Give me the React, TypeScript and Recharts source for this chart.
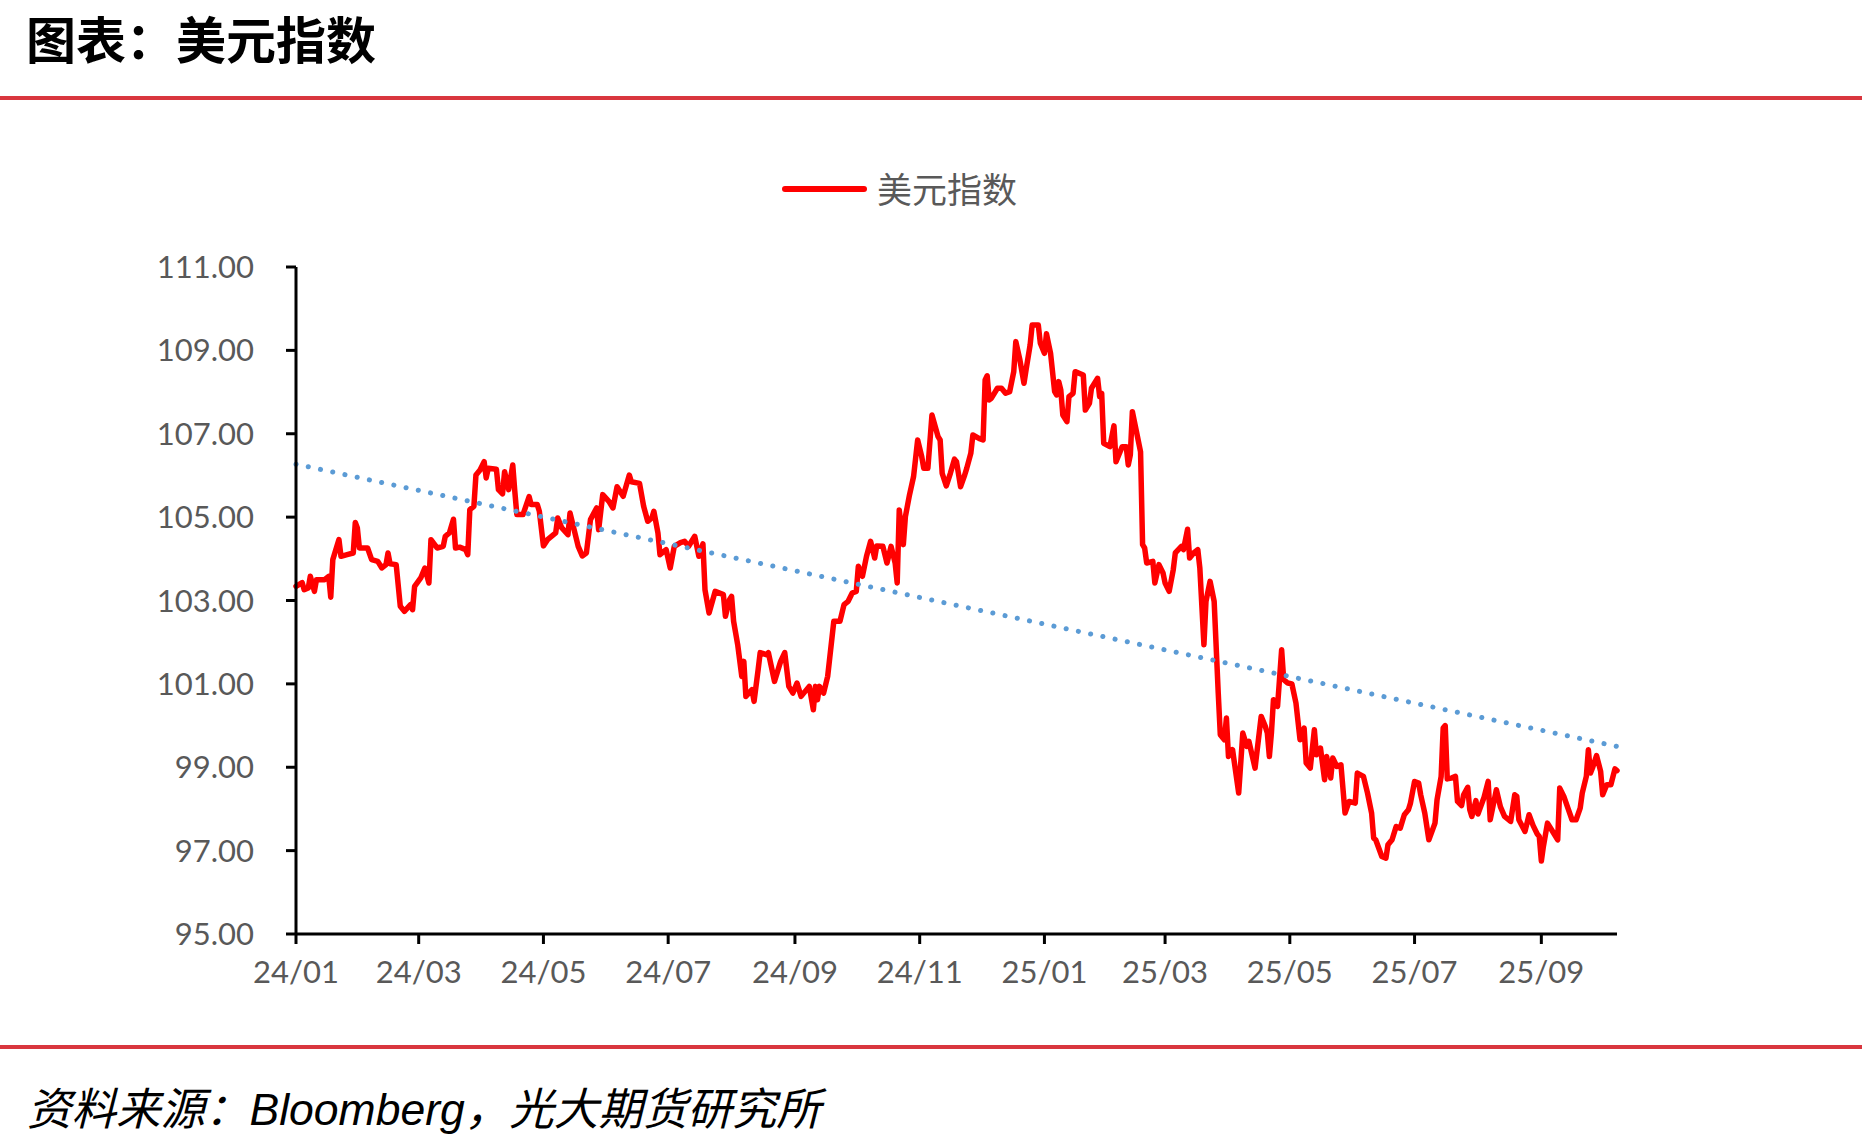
import React from 'react';
import { LineChart, Line, XAxis, YAxis } from 'recharts';

// Days counted from 2024-01-01 for each plotted close
const tradeDays = [
  0, 3, 4, 6, 7, 9, 10, 12, 14, 16,
  17, 18, 21, 22, 25, 28, 29, 30, 31, 35,
  37, 40, 42, 44, 45, 46, 49, 51, 53, 56,
  57, 58, 61, 63, 65, 66, 69, 72, 73, 75,
  77, 78, 80, 83, 84, 85, 87, 88, 90, 92,
  93, 94, 98, 99, 101, 102, 104, 106, 107, 108,
  111, 114, 115, 118, 119, 121, 123, 127, 128, 130,
  133, 134, 136, 138, 140, 142, 144, 147, 148, 150,
  153, 155, 157, 160, 163, 164, 168, 170, 172, 174,
  175, 177, 178, 181, 183, 185, 188, 190, 192, 195,
  197, 199, 200, 202, 205, 209, 210, 212, 213, 214,
  216, 218, 219, 220, 223, 224, 226, 227, 230, 231,
  234, 237, 239, 241, 243, 245, 247, 251, 253, 254,
  255, 256, 258, 260, 263, 266, 268, 270, 272, 274,
  275, 277, 279, 281, 283, 284, 287, 289, 291, 293,
  294, 295, 297, 298, 300, 302, 304, 306, 307, 309,
  311, 314, 315, 316, 318, 320, 322, 323, 325, 327,
  328, 330, 331, 334, 336, 337, 338, 339, 340, 343,
  345, 347, 349, 351, 352, 354, 356, 357, 359, 360,
  363, 364, 366, 367, 369, 371, 372, 373, 374, 375,
  377, 378, 380, 381, 385, 386, 388, 389, 392, 393,
  394, 395, 398, 400, 401, 404, 406, 407, 408, 409,
  411, 413, 414, 415, 416, 419, 420, 422, 424, 425,
  427, 429, 430, 433, 434, 436, 437, 439, 441, 442,
  444, 445, 447, 449, 451, 452, 454, 455, 456, 458,
  461, 463, 465, 466, 469, 472, 474, 475, 476, 477,
  478, 480, 482, 483, 485, 487, 489, 491, 493, 494,
  496, 498, 499, 501, 503, 504, 506, 507, 509, 511,
  513, 515, 518, 519, 522, 524, 526, 527, 528, 531,
  533, 534, 536, 538, 540, 542, 544, 545, 547, 549,
  550, 552, 554, 557, 558, 560, 561, 562, 563, 565,
  567, 568, 570, 571, 573, 574, 575, 577, 578, 581,
  583, 584, 587, 589, 591, 594, 596, 597, 598, 601,
  603, 605, 607, 608, 609, 610, 612, 614, 617, 618,
  620, 622, 624, 626, 628, 629, 631, 632, 633, 634,
  636, 638, 639, 641, 643, 645, 646,
];

// US dollar index closes
const dxyValues = [
  103.34, 103.43, 103.26, 103.30, 103.58, 103.22, 103.50, 103.50, 103.50, 103.58,
  103.08, 103.98, 104.46, 104.06, 104.10, 104.14, 104.87, 104.74, 104.26, 104.26,
  103.98, 103.94, 103.78, 103.86, 104.14, 103.88, 103.86, 102.86, 102.74, 102.90,
  102.78, 103.34, 103.54, 103.78, 103.42, 104.46, 104.26, 104.30, 104.54, 104.62,
  104.95, 104.26, 104.28, 104.22, 104.10, 105.18, 105.26, 106.01, 106.13, 106.33,
  105.94, 106.17, 106.15, 105.66, 105.56, 106.09, 105.66, 106.25, 105.62, 105.06,
  105.06, 105.49, 105.30, 105.30, 105.14, 104.31, 104.46, 104.62, 104.98, 104.74,
  104.58, 105.10, 104.70, 104.30, 104.07, 104.14, 104.94, 105.22, 104.70, 105.54,
  105.38, 105.22, 105.73, 105.50, 106.01, 105.85, 105.81, 105.26, 104.90, 104.98,
  105.14, 104.62, 104.10, 104.22, 103.78, 104.30, 104.39, 104.42, 104.30, 104.54,
  104.06, 104.36, 103.26, 102.70, 103.22, 103.14, 102.62, 103.02, 103.10, 102.50,
  101.94, 101.18, 101.54, 100.70, 100.86, 100.58, 101.34, 101.75, 101.70, 101.75,
  101.06, 101.54, 101.75, 100.94, 100.78, 101.02, 100.70, 100.94, 100.38, 100.94,
  100.62, 100.94, 100.78, 101.18, 102.50, 102.50, 102.90, 102.98, 103.18, 103.22,
  103.82, 103.58, 104.06, 104.42, 104.02, 104.31, 104.30, 103.90, 104.30, 103.90,
  103.42, 105.17, 104.34, 105.01, 105.53, 105.97, 106.85, 106.45, 106.17, 106.17,
  107.45, 106.93, 106.85, 106.05, 105.75, 106.05, 106.39, 106.33, 105.73, 106.01,
  106.17, 106.53, 106.97, 106.89, 106.85, 108.29, 108.39, 107.81, 107.85, 108.09,
  108.09, 107.97, 108.01, 108.49, 109.21, 108.77, 108.21, 108.53, 109.13, 109.61,
  109.61, 109.17, 108.93, 109.40, 108.93, 108.01, 107.93, 108.25, 108.05, 107.45,
  107.29, 107.89, 107.97, 108.49, 108.41, 107.57, 107.73, 108.09, 108.33, 107.89,
  107.97, 106.77, 106.69, 107.19, 106.33, 106.69, 106.69, 106.25, 106.49, 107.53,
  107.05, 106.57, 104.34, 104.26, 103.90, 103.94, 103.42, 103.86, 103.66, 103.42,
  103.22, 103.74, 104.14, 104.30, 104.22, 104.71, 104.02, 104.14, 104.22, 103.78,
  101.94, 102.98, 103.46, 102.98, 100.78, 99.78, 99.66, 100.18, 99.26, 99.42,
  98.38, 99.82, 99.50, 99.62, 98.98, 100.22, 99.98, 99.82, 99.26, 99.82,
  100.62, 100.46, 101.82, 101.10, 101.02, 101.00, 100.54, 99.66, 99.94, 99.10,
  98.98, 99.90, 99.30, 99.46, 98.70, 99.26, 98.74, 99.22, 99.02, 99.06,
  97.90, 98.18, 98.14, 98.86, 98.78, 98.38, 97.90, 97.30, 97.26, 96.86,
  96.82, 97.14, 97.26, 97.58, 97.54, 97.86, 97.98, 98.14, 98.66, 98.62,
  98.34, 97.90, 97.26, 97.66, 98.22, 98.78, 99.94, 100.00, 98.72, 98.74,
  98.78, 98.18, 98.08, 98.34, 98.52, 97.98, 97.82, 98.20, 97.88, 98.28,
  98.66, 97.74, 98.46, 98.05, 97.82, 97.70, 98.34, 98.30, 97.74, 97.46,
  97.86, 97.60, 97.40, 97.34, 96.75, 97.10, 97.66, 97.50, 97.26, 98.50,
  98.30, 98.02, 97.74, 97.74, 98.02, 98.38, 98.78, 99.42, 98.86, 98.98,
  99.28, 98.90, 98.34, 98.58, 98.58, 98.96, 98.92,
];

// Linear trend endpoints
const trendDays = [0, 646];
const trendValues = [106.27, 99.5];

// Axis ticks
const tickDays = [0, 60, 121, 182, 244, 305, 366, 425, 486, 547, 609];
const tickLabels = ['24/01', '24/03', '24/05', '24/07', '24/09', '24/11', '25/01', '25/03', '25/05', '25/07', '25/09'];
const yTicks = [95, 97, 99, 101, 103, 105, 107, 109, 111];

const seriesName = '美元指数';
const titleText = '图表：美元指数';
const sourceText = '资料来源：Bloomberg，光大期货研究所';

const lineData = tradeDays.map((day, i) => ({ day, dxy: dxyValues[i] }));
const trendData = trendDays.map((day, i) => ({ day, trend: trendValues[i] }));

const RULE_RED = '#D9363E';
const LABEL_GREY = '#595959';
const axisFont = { fill: LABEL_GREY, fontSize: 31, fontFamily: 'Lato, "Open Sans", sans-serif' };

export default function App() {
  return (
    <div
      style={{
        position: 'absolute',
        left: 0,
        top: 0,
        width: 1862,
        height: 1146,
        background: '#ffffff',
        overflow: 'hidden',
      }}
    >
      <div
        style={{
          position: 'absolute',
          left: 26,
          top: 12,
          fontSize: 50,
          lineHeight: '50px',
          fontWeight: 700,
          color: '#000',
          fontFamily: '"Noto Sans CJK SC", sans-serif',
          whiteSpace: 'nowrap',
        }}
      >
        {titleText}
      </div>
      <div style={{ position: 'absolute', left: 0, top: 96, width: 1862, height: 4, background: RULE_RED }} />

      <LineChart
        width={1862}
        height={1146}
        data={lineData}
        margin={{ top: 267, right: 245, bottom: 152, left: 146 }}
        style={{ position: 'absolute', left: 0, top: 0 }}
      >
        <XAxis
          type="number"
          dataKey="day"
          domain={[0, 646]}
          ticks={tickDays}
          interval={0}
          tickFormatter={(d: number) => tickLabels[tickDays.indexOf(d)] ?? ''}
          height={60}
          tickSize={10}
          tickMargin={17}
          axisLine={{ stroke: '#000', strokeWidth: 3 }}
          tickLine={{ stroke: '#000', strokeWidth: 3 }}
          tick={axisFont}
        />
        <YAxis
          type="number"
          domain={[95, 111]}
          ticks={yTicks}
          interval={0}
          width={150}
          tickSize={10}
          tickMargin={32}
          tickFormatter={(v: number) => v.toFixed(2)}
          axisLine={{ stroke: '#000', strokeWidth: 3 }}
          tickLine={{ stroke: '#000', strokeWidth: 3 }}
          tick={axisFont}
        />
        <Line
          type="linear"
          dataKey="dxy"
          name={seriesName}
          stroke="#FF0000"
          strokeWidth={5.5}
          strokeLinejoin="round"
          strokeLinecap="round"
          dot={false}
          activeDot={false}
          isAnimationActive={false}
        />
        <Line
          type="linear"
          data={trendData}
          dataKey="trend"
          stroke="#5B9BD5"
          strokeWidth={5}
          strokeDasharray="0.1 12.4"
          strokeLinecap="round"
          dot={false}
          activeDot={false}
          legendType="none"
          isAnimationActive={false}
        />
      </LineChart>

      {/* legend */}
      <div
        style={{
          position: 'absolute',
          left: 782,
          top: 186,
          width: 85,
          height: 6,
          borderRadius: 3,
          background: '#FF0000',
        }}
      />
      <div
        style={{
          position: 'absolute',
          left: 877,
          top: 170,
          fontSize: 35,
          lineHeight: '35px',
          color: LABEL_GREY,
          fontFamily: '"Noto Sans CJK SC", sans-serif',
          whiteSpace: 'nowrap',
        }}
      >
        {seriesName}
      </div>

      <div style={{ position: 'absolute', left: 0, top: 1045, width: 1862, height: 4, background: RULE_RED }} />
      <div
        style={{
          position: 'absolute',
          left: 27,
          top: 1088,
          fontSize: 44.5,
          lineHeight: '44px',
          fontStyle: 'italic',
          color: '#000',
          fontFamily: '"Liberation Sans", "Noto Sans CJK SC", sans-serif',
          whiteSpace: 'nowrap',
        }}
      >
        {sourceText}
      </div>
    </div>
  );
}
